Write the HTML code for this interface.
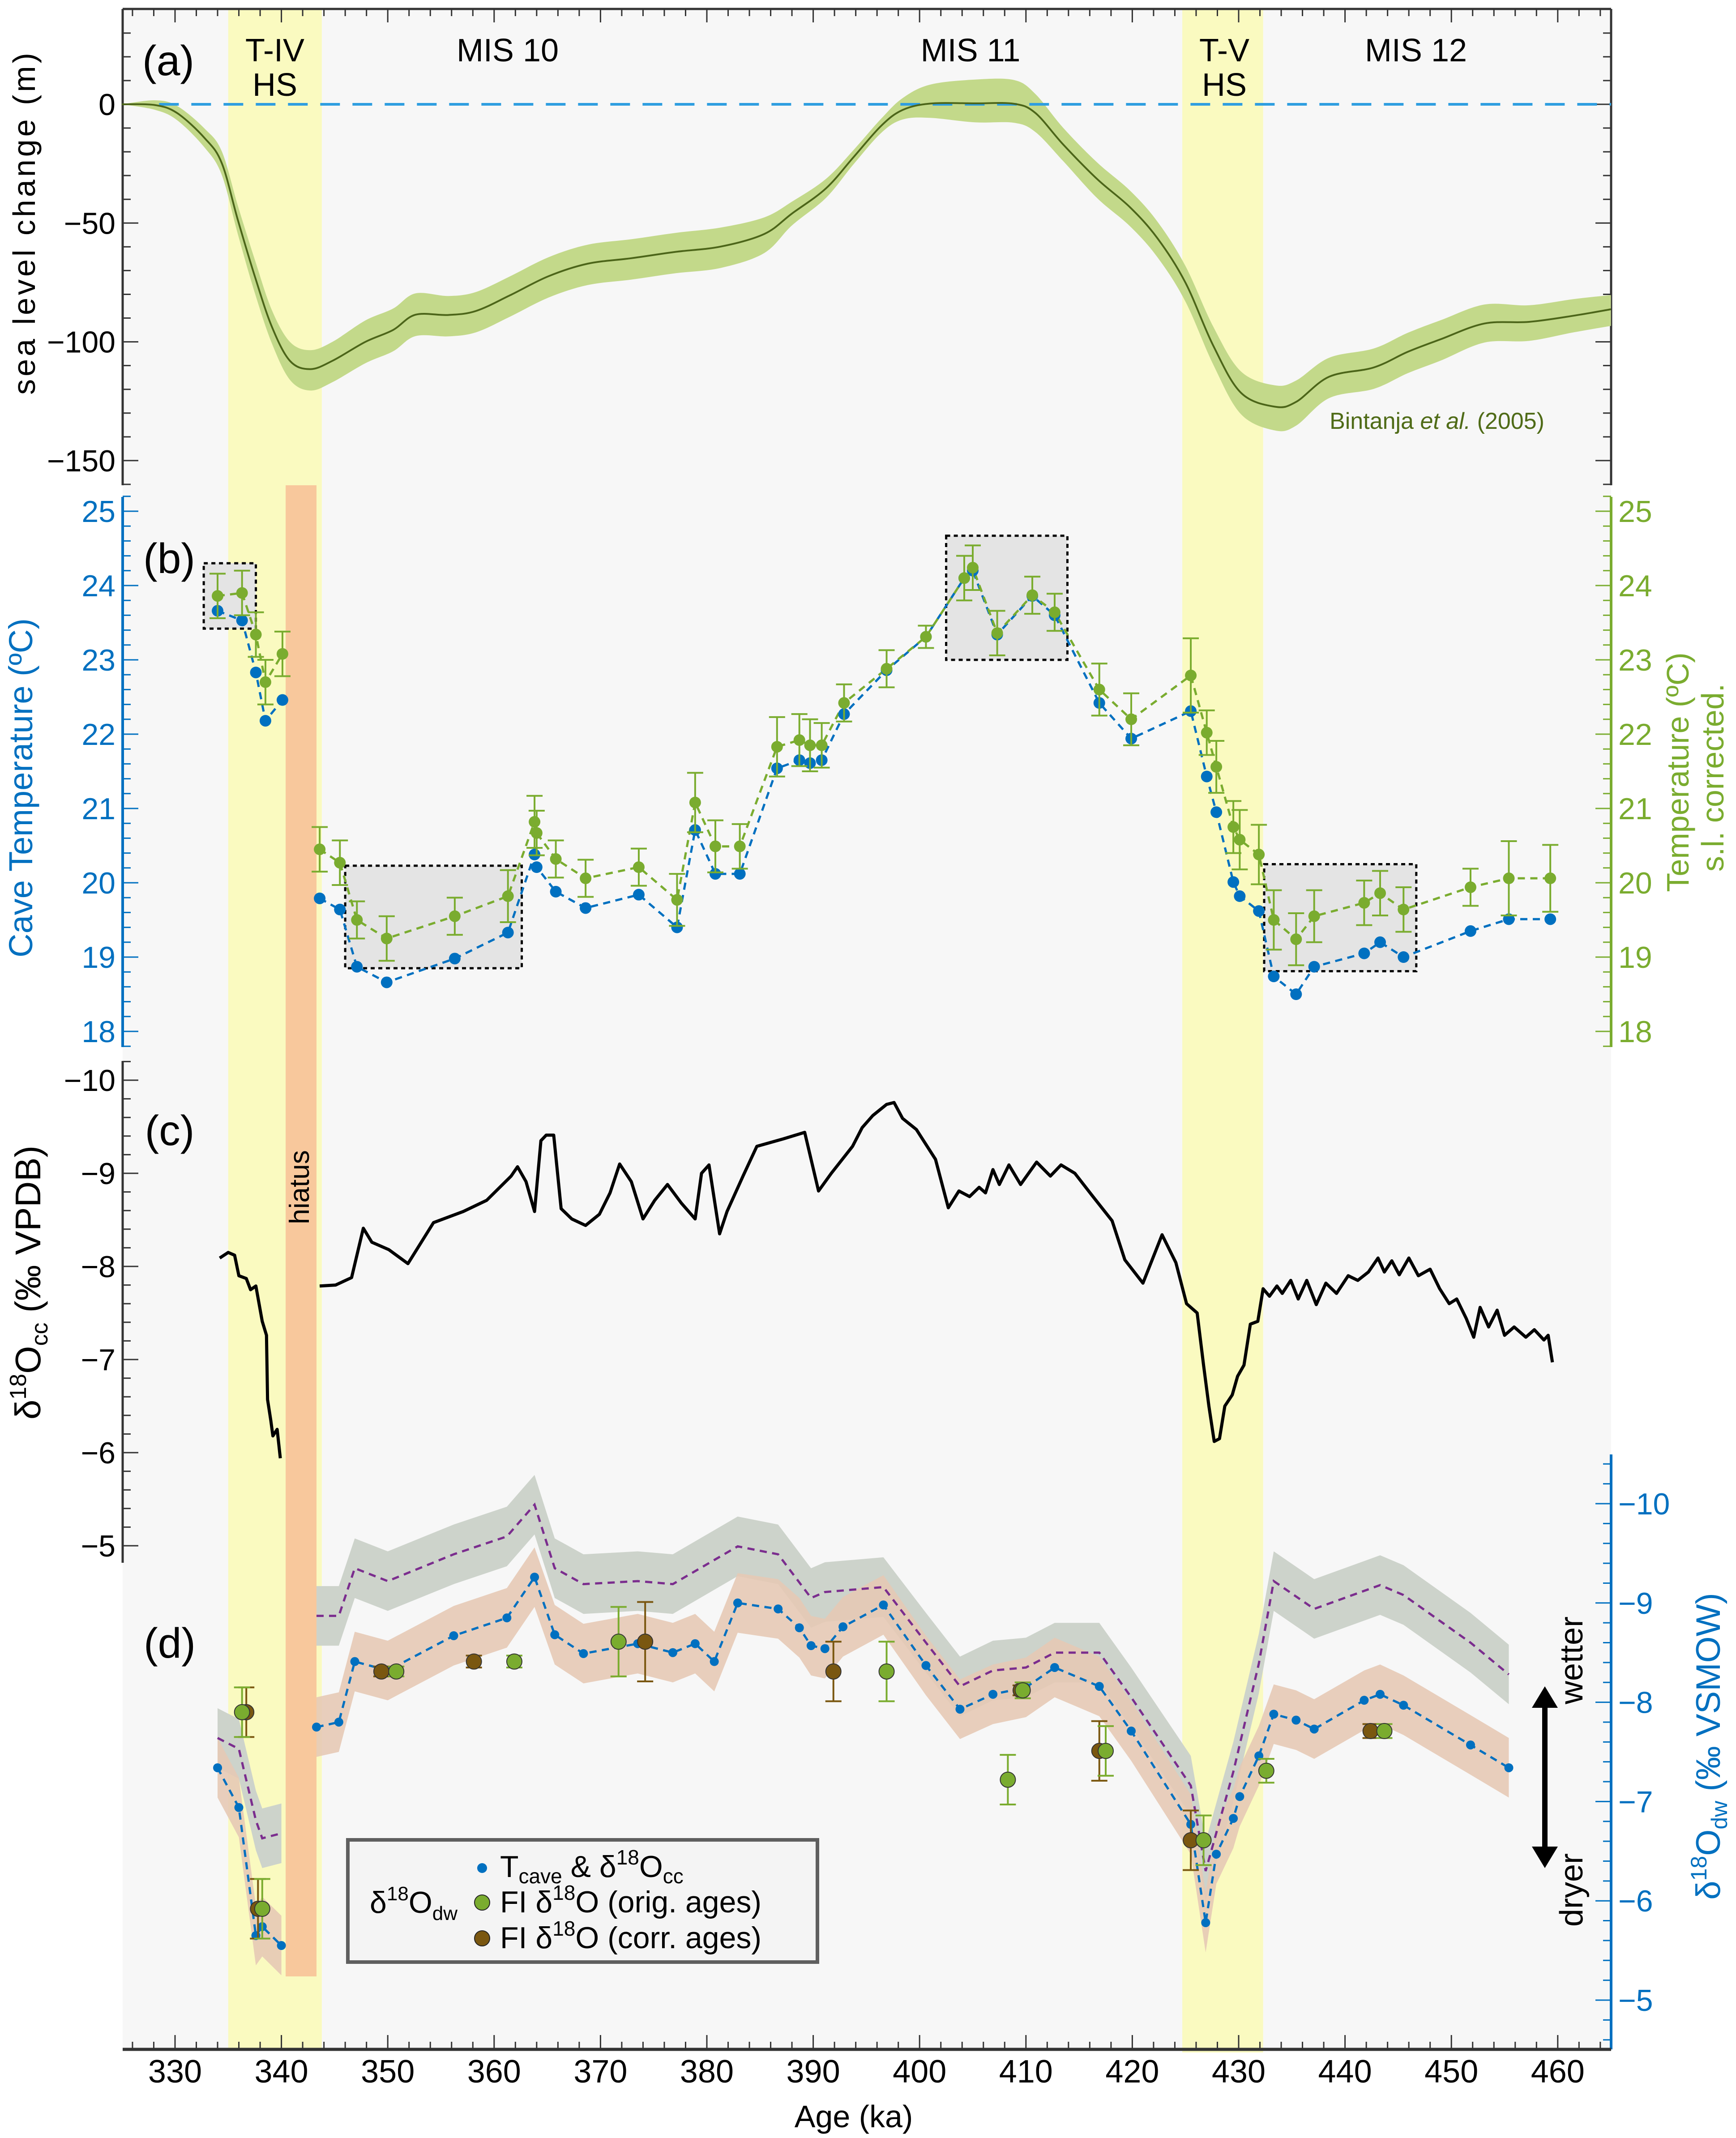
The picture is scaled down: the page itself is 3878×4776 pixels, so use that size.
<!DOCTYPE html>
<html><head><meta charset="utf-8"><style>
html,body{margin:0;padding:0;background:#fff}
svg{display:block;font-family:"Liberation Sans",Arial,sans-serif}
</style></head><body>
<svg id="chart" width="3878" height="4776" viewBox="0 0 3878 4776" xmlns="http://www.w3.org/2000/svg">
<rect x="274" y="20" width="3325" height="4558" fill="#f7f7f7"/>
<g id="bands"></g>
<g id="axes"></g>
<g id="marks"></g>
<g id="labels" fill="#000">
<text x="376" y="168" font-size="95" text-anchor="middle">(a)</text>
<text x="378" y="1280" font-size="95" text-anchor="middle">(b)</text>
<text x="379" y="2558" font-size="95" text-anchor="middle">(c)</text>
<text x="379" y="3703" font-size="95" text-anchor="middle">(d)</text>
<text x="614" y="137" font-size="72" text-anchor="middle">T-IV</text>
<text x="614" y="214" font-size="72" text-anchor="middle">HS</text>
<text x="1134" y="137" font-size="72" text-anchor="middle">MIS 10</text>
<text x="2168" y="137" font-size="72" text-anchor="middle">MIS 11</text>
<text x="2735" y="137" font-size="72" text-anchor="middle">T-V</text>
<text x="2735" y="214" font-size="72" text-anchor="middle">HS</text>
<text x="3163" y="137" font-size="72" text-anchor="middle">MIS 12</text>
<text x="3210" y="958" font-size="52" text-anchor="middle" fill="#4f6b17">Bintanja <tspan font-style="italic">et al.</tspan> (2005)</text>
<text transform="translate(690,2652) rotate(-90)" font-size="62" text-anchor="middle">hiatus</text>
<text transform="translate(78,497) rotate(-90)" font-size="70" letter-spacing="6" text-anchor="middle">sea level change  (m)</text>
<text transform="translate(72,1760) rotate(-90)" font-size="74" text-anchor="middle" fill="#0070c0">Cave Temperature  (ºC)</text>
<text transform="translate(3772,1725) rotate(-90)" font-size="70" text-anchor="middle" fill="#7aac2f">Temperature  (ºC)</text>
<text transform="translate(3850,1737) rotate(-90)" font-size="70" text-anchor="middle" fill="#7aac2f">s.l. corrected.</text>
<text transform="translate(90,2865) rotate(-90)" font-size="80" text-anchor="middle">δ<tspan font-size="52" dy="-32">18</tspan><tspan dy="32">O</tspan><tspan font-size="52" dy="16">cc</tspan><tspan dy="-16"> (‰ VPDB)</tspan></text>
<text transform="translate(3842,3901) rotate(-90)" font-size="76" text-anchor="middle" fill="#0070c0">δ<tspan font-size="50" dy="-30">18</tspan><tspan dy="30">O</tspan><tspan font-size="50" dy="16">dw</tspan><tspan dy="-16"> (‰ VSMOW)</tspan></text>
<text transform="translate(3535,3709) rotate(-90)" font-size="72" text-anchor="middle">wetter</text>
<text transform="translate(3535,4222) rotate(-90)" font-size="72" text-anchor="middle">dryer</text>
<g>
<line x1="3451" y1="3800" x2="3451" y2="4140" stroke="#000" stroke-width="12"/>
<polygon points="3451,3767 3422,3815 3480,3815" fill="#000"/>
<polygon points="3451,4173 3422,4125 3480,4125" fill="#000"/>
</g>
<text x="1907" y="4752" font-size="70" text-anchor="middle">Age  (ka)</text>
</g>
<g id="legend">
<rect x="777" y="4110" width="1049" height="273" fill="#f4f4f4" stroke="#5f5f5f" stroke-width="8"/>
<text x="826" y="4273" font-size="68">δ<tspan font-size="44" dy="-28">18</tspan><tspan dy="28">O</tspan><tspan font-size="44" dy="16">dw</tspan></text>
<circle cx="1077" cy="4173" r="11" fill="#0070c0"/>
<text x="1117" y="4193" font-size="68">T<tspan font-size="46" dy="14">cave</tspan><tspan dy="-14"> &amp; δ</tspan><tspan font-size="46" dy="-28">18</tspan><tspan dy="28">O</tspan><tspan font-size="46" dy="14">cc</tspan></text>
<circle cx="1077" cy="4250" r="17" fill="#7aac2f" stroke="#222" stroke-width="2"/>
<text x="1117" y="4272" font-size="68">FI δ<tspan font-size="46" dy="-28">18</tspan><tspan dy="28">O (orig. ages)</tspan></text>
<circle cx="1077" cy="4330" r="17" fill="#7a5710" stroke="#222" stroke-width="2"/>
<text x="1117" y="4352" font-size="68">FI δ<tspan font-size="46" dy="-28">18</tspan><tspan dy="28">O (corr. ages)</tspan></text>
</g>
</svg>
<script>
// ---- Panel (a) sea level data ----
const seaAges=[325.0,328.1,330.2,332.8,334.4,335.9,337.5,339.1,340.8,342.7,344.8,347.9,350.5,352.6,355.7,358.3,361.5,365.1,368.8,372.9,377.1,381.3,385.4,388.0,391.2,393.8,396.4,398.4,401.0,405.2,408.9,410.9,413.5,416.7,419.8,422.4,425.0,427.6,430.2,433.4,435.4,438.5,442.7,445.9,449.0,453.1,457.3,461.5,465.0];
const seaLevel=[0,-0.3,-3.7,-14.3,-24.8,-48.6,-72.4,-93.6,-108,-111.5,-108,-100,-95,-88.6,-88.7,-87,-80.4,-72.4,-67.1,-64.8,-62.1,-59.9,-54.6,-46,-35.4,-22.2,-9.0,-2.4,0.3,0.4,0.2,-3.7,-16.9,-31.5,-43.4,-56.6,-75.1,-101.5,-121.4,-127.3,-125.3,-114.7,-110.8,-104.2,-98.9,-92.3,-91.6,-89,-86.3];
const seaErrHi=[0,2,3,4,5,6,7,7,8,8,8,9,9,9,8,8,8,8,8,8,8,8,7,5,4,3,3,5,8,10,10,8,7,7,7,7,7,8,9,9,9,8,8,8,8,8,7,7,6];
const seaErrLo=[0,2,3,4,5,6,7,7,8,9,9,9,9,9,9,9,9,9,9,9,9,9,8,5,4,3,3,4,6,8,8,8,7,8,8,8,8,8,9,10,10,9,9,9,9,8,8,7,7];
// ---- Panel (b) cave temperatures ----
const bAges=[334.0,336.3,337.6,338.5,340.1,343.6,345.5,347.1,349.9,356.3,361.3,363.8,364.0,365.8,368.6,373.6,377.2,378.9,380.8,383.1,386.6,388.7,389.7,390.8,392.9,396.9,400.6,404.2,405.0,407.3,410.6,412.7,416.9,419.9,425.5,427.0,427.9,429.5,430.1,431.9,433.3,435.4,437.1,441.8,443.3,445.5,451.8,455.4,459.3];
const caveTemp=[23.66,23.53,22.83,22.18,22.46,19.79,19.64,18.87,18.66,18.98,19.33,20.38,20.21,19.88,19.66,19.84,19.40,20.71,20.12,20.12,21.54,21.65,21.61,21.65,22.27,22.86,23.31,24.10,24.20,23.34,23.86,23.60,22.42,21.94,22.31,21.43,20.95,20.01,19.82,19.62,18.74,18.50,18.87,19.05,19.20,19.00,19.35,19.51,19.51];
const slTemp=[23.86,23.90,23.34,22.70,23.08,20.45,20.27,19.50,19.25,19.55,19.82,20.82,20.67,20.32,20.06,20.21,19.77,21.08,20.49,20.49,21.83,21.92,21.85,21.85,22.42,22.88,23.31,24.10,24.24,23.36,23.87,23.64,22.60,22.20,22.79,22.02,21.56,20.75,20.58,20.38,19.50,19.24,19.55,19.73,19.86,19.64,19.94,20.06,20.06];
const slTempErr=[0.3,0.3,0.3,0.3,0.3,0.3,0.3,0.25,0.3,0.25,0.35,0.35,0.3,0.25,0.25,0.25,0.35,0.4,0.35,0.3,0.4,0.35,0.35,0.3,0.25,0.25,0.15,0.3,0.3,0.3,0.25,0.25,0.35,0.35,0.5,0.3,0.35,0.35,0.4,0.4,0.4,0.35,0.35,0.3,0.3,0.3,0.25,0.5,0.45];
const boxAgeFrom=[332.7,346.0,402.5,432.4];
const boxAgeTo=[337.6,362.6,413.9,446.7];
const boxTempTop=[24.3,20.23,24.67,20.25];
const boxTempBottom=[23.42,18.85,23.0,18.81];
// ---- Panel (c) d18O calcite ----
const cAges=[334.2,335.0,335.6,336.0,336.7,337.1,337.6,338.2,338.6,338.7,339.0,339.2,339.6,339.9,
343.6,345.1,346.6,347.7,348.5,350.1,351.9,354.3,357.1,359.3,361.6,362.2,363.0,363.8,364.4,364.9,365.6,366.3,367.3,368.6,369.9,370.9,371.8,372.9,374.0,375.1,376.3,377.6,378.9,379.5,380.2,381.2,381.9,383.4,384.7,387.2,389.2,390.5,391.7,393.7,394.6,395.6,396.9,397.6,398.4,399.7,401.5,402.7,403.7,404.7,405.6,406.2,406.9,407.5,408.4,409.5,411.0,412.3,413.3,414.6,416.1,418.1,419.3,421.0,422.8,424.1,425.1,426.1,426.7,427.2,427.7,428.2,428.7,429.4,429.9,430.5,431.1,431.8,432.3,432.9,433.6,434.1,434.9,435.6,436.4,437.3,438.2,439.2,440.3,441.2,442.2,443.1,443.7,444.4,445.1,446.0,446.9,448.0,448.9,449.8,450.5,451.4,452.1,452.7,453.5,454.3,455.0,455.9,457.0,457.8,458.7,459.1,459.5];
const d18Occ=[-8.09,-8.15,-8.12,-7.9,-7.87,-7.75,-7.79,-7.41,-7.26,-6.57,-6.35,-6.18,-6.25,-5.94,
-7.79,-7.80,-7.88,-8.41,-8.26,-8.18,-8.03,-8.47,-8.59,-8.71,-8.97,-9.07,-8.91,-8.59,-9.35,-9.41,-9.41,-8.62,-8.51,-8.44,-8.56,-8.79,-9.1,-8.91,-8.51,-8.71,-8.88,-8.68,-8.51,-9.0,-9.09,-8.35,-8.59,-8.97,-9.29,-9.37,-9.44,-8.81,-9.0,-9.29,-9.49,-9.62,-9.74,-9.76,-9.59,-9.47,-9.15,-8.63,-8.81,-8.75,-8.85,-8.79,-9.04,-8.88,-9.09,-8.88,-9.12,-8.97,-9.09,-9.0,-8.78,-8.49,-8.07,-7.82,-8.34,-8.04,-7.60,-7.5,-6.94,-6.50,-6.12,-6.15,-6.50,-6.62,-6.82,-6.94,-7.38,-7.41,-7.76,-7.68,-7.79,-7.71,-7.85,-7.65,-7.85,-7.59,-7.82,-7.71,-7.9,-7.85,-7.94,-8.09,-7.94,-8.06,-7.91,-8.09,-7.9,-7.97,-7.76,-7.60,-7.65,-7.44,-7.24,-7.56,-7.35,-7.53,-7.26,-7.35,-7.24,-7.32,-7.21,-7.26,-6.97];
// ---- Panel (d) d18O drip water ----
const dAges=[334.0,336.0,337.6,338.2,340.0,343.3,345.4,346.9,350.0,356.2,361.2,363.8,365.7,368.4,373.5,376.8,378.9,380.7,382.9,386.7,388.7,389.8,391.1,392.8,396.6,400.6,403.8,406.9,410.0,412.7,416.9,419.9,425.5,426.9,427.9,429.5,430.1,431.9,433.3,435.4,437.1,441.8,443.3,445.5,451.8,455.4];
const d18Odw=[-7.34,-6.94,-5.65,-5.74,-5.55,-7.75,-7.80,-8.41,-8.32,-8.67,-8.85,-9.26,-8.68,-8.49,-8.59,-8.50,-8.59,-8.41,-9.0,-8.94,-8.75,-8.57,-8.54,-8.76,-8.98,-8.37,-7.93,-8.08,-8.15,-8.35,-8.16,-7.71,-6.77,-5.78,-6.47,-6.83,-7.05,-7.46,-7.88,-7.82,-7.73,-8.02,-8.08,-7.97,-7.57,-7.34];
const purpleAges=[334.0,336.0,337.6,338.2,340.0,343.3,345.4,346.9,350.0,356.2,361.2,363.8,365.7,368.4,373.5,376.8,382.9,386.7,389.8,391.1,396.6,400.6,403.8,406.9,410.0,412.7,416.9,419.9,425.5,426.9,429.5,431.9,433.3,437.1,443.3,445.5,451.8,455.4];
const d18OdwSL=[-7.64,-7.53,-6.81,-6.63,-6.68,-8.87,-8.87,-9.35,-9.22,-9.49,-9.67,-9.99,-9.35,-9.19,-9.22,-9.19,-9.57,-9.49,-9.05,-9.11,-9.16,-8.60,-8.16,-8.32,-8.35,-8.50,-8.50,-8.05,-7.16,-6.30,-7.30,-8.39,-9.22,-8.94,-9.18,-9.08,-8.60,-8.28];
const fiOrigAges=[336.3,338.2,350.8,361.9,371.7,396.9,409.7,408.3,417.5,432.6,426.7,443.7];
const fiOrigVal=[-7.90,-5.92,-8.31,-8.41,-8.61,-8.31,-8.12,-7.22,-7.51,-7.31,-6.61,-7.71];
const fiOrigErr=[0.25,0.3,0.05,0.06,0.35,0.3,0.08,0.25,0.25,0.12,0.25,0.07];
const fiCorrAges=[336.7,337.8,349.4,358.1,374.2,391.9,409.5,416.9,425.5,442.4];
const fiCorrVal=[-7.90,-5.92,-8.31,-8.41,-8.61,-8.31,-8.12,-7.51,-6.61,-7.71];
const fiCorrErr=[0.25,0.3,0.05,0.06,0.4,0.3,0.05,0.3,0.3,0.07];
// ---- Axis ticks ----
const xTicks=[330,340,350,360,370,380,390,400,410,420,430,440,450,460];
const aTicks=[0,-50,-100,-150];
const bTicks=[18,19,20,21,22,23,24,25];
const cTicks=[-10,-9,-8,-7,-6,-5];
const dTicks=[-10,-9,-8,-7,-6,-5];

const NS='http://www.w3.org/2000/svg';
const X=a=>391+(a-330)*23.76;
const Ya=v=>233-v*5.306;
const Yb=t=>1142+(25-t)*166;
const Yc=v=>2413+(v+10)*208;
const Yd=v=>3359+(v+10)*221.8;
function el(tag,attrs,parent){const e=document.createElementNS(NS,tag);for(const k in attrs)e.setAttribute(k,attrs[k]);parent.appendChild(e);return e;}
const bands=document.getElementById('bands'),axes=document.getElementById('axes'),marks=document.getElementById('marks');

let r;
r=el('rect',{x:X(335.0),y:20,width:X(343.8)-X(335.0),height:4558,fill:'#fafac0'},bands);


r=el('rect',{x:X(424.7),y:20,width:X(432.3)-X(424.7),height:4565,fill:'#fafac0'},bands);


r=el('rect',{x:X(340.4),y:1084,width:X(343.3)-X(340.4),height:4415-1084,fill:'#f8c89c'},bands);



const ax=(x1,y1,x2,y2,c,w)=>el('line',{x1,y1,x2,y2,stroke:c,'stroke-width':w},axes);
function txt(x,y,s,size,anchor,fill,name){const t=el('text',{x,y,'font-size':size,'text-anchor':anchor,fill},axes);t.textContent=s;return t;}
const fmt=v=>v<0?'\u2212'+Math.abs(v):String(v);
ax(274,20,274,1084,'#333',5);ax(3599,20,3599,1084,'#333',5);ax(274,20,3599,20,'#333',5);
for(let v=-160;v<=40;v+=10){const y=Ya(v);const maj=v%50===0;ax(274,y,274+(maj?35:18),y,'#333',3);ax(3599,y,3599-(maj?35:18),y,'#333',3);}
for(let a=326;a<=464;a+=2){const maj=a%10===0;ax(X(a),20,X(a),20+(maj?30:16),'#333',3);}
aTicks.forEach(v=>txt(258,Ya(v)+24,fmt(v),68,'end','#000','sea-level-tick-label'));
ax(274,1110,274,2339,'#0070c0',6);ax(3599,1110,3599,2339,'#7aac2f',6);
for(let i=0;i<=37;i++){const t=17.8+i*0.2;const y=Yb(t);const maj=Math.abs(t-Math.round(t))<0.01;ax(274,y,274+(maj?35:18),y,'#0070c0',3);ax(3599,y,3599-(maj?35:18),y,'#7aac2f',3);}
bTicks.forEach(v=>{txt(258,Yb(v)+24,String(v),68,'end','#0070c0','cave-temp-tick-label');txt(3615,Yb(v)+24,String(v),68,'start','#7aac2f','sl-temp-tick-label');});
ax(274,2370,274,3491,'#333',5);
for(let i=0;i<=26;i++){const v=-10.2+i*0.2;const y=Yc(v);const maj=Math.abs(v-Math.round(v))<0.01;ax(274,y,274+(maj?35:18),y,'#333',3);}
cTicks.forEach(v=>txt(258,Yc(v)+24,fmt(v),68,'end','#000','d18occ-tick-label'));
ax(3599,3249,3599,4578,'#0070c0',6);
for(let i=0;i<=30;i++){const v=-10.4+i*0.2;const y=Yd(v);if(y<3249||y>4578)continue;const maj=Math.abs(v-Math.round(v))<0.01;ax(3599,y,3599-(maj?35:18),y,'#0070c0',3);}
dTicks.forEach(v=>txt(3615,Yd(v)+24,fmt(v),68,'start','#0070c0','d18odw-tick-label'));
ax(274,4578,3599,4578,'#333',7);
for(let a=326;a<=464;a+=2){const maj=a%10===0;ax(X(a),4578,X(a),4578-(maj?32:17),'#333',3);}
xTicks.forEach(a=>txt(X(a),4652,String(a),72,'middle','#000','x-tick-label'));

const pts=(xs,ys,fy)=>xs.map((a,i)=>X(a).toFixed(1)+','+fy(ys[i]).toFixed(1)).join(' ');
function bandPath(xs,ys,hi,lo,fy){let d='';xs.forEach((a,i)=>{d+=(i?'L':'M')+X(a).toFixed(1)+','+fy(ys[i]+hi[i]).toFixed(1);});for(let i=xs.length-1;i>=0;i--){d+='L'+X(xs[i]).toFixed(1)+','+fy(ys[i]-lo[i]).toFixed(1);}return d+'Z';}
function split(xs,ys){const a=[[],[]],b=[[],[]];xs.forEach((x,i)=>{if(x<341){a[0].push(x);a[1].push(ys[i]);}else{b[0].push(x);b[1].push(ys[i]);}});return [a,b];}
// smooth (Catmull-Rom) path through points
function smooth(P,start){let d=start?'M'+P[0][0].toFixed(1)+','+P[0][1].toFixed(1):'L'+P[0][0].toFixed(1)+','+P[0][1].toFixed(1);
for(let i=0;i<P.length-1;i++){const p0=P[Math.max(0,i-1)],p1=P[i],p2=P[i+1],p3=P[Math.min(P.length-1,i+2)];
const c1=[p1[0]+(p2[0]-p0[0])/6,p1[1]+(p2[1]-p0[1])/6],c2=[p2[0]-(p3[0]-p1[0])/6,p2[1]-(p3[1]-p1[1])/6];
d+='C'+c1[0].toFixed(1)+','+c1[1].toFixed(1)+' '+c2[0].toFixed(1)+','+c2[1].toFixed(1)+' '+p2[0].toFixed(1)+','+p2[1].toFixed(1);}return d;}
const upper=seaAges.map((a,i)=>[X(a),Ya(seaLevel[i]+seaErrHi[i])]);
const lower=seaAges.map((a,i)=>[X(a),Ya(seaLevel[i]-seaErrLo[i])]).reverse();
const mid=seaAges.map((a,i)=>[X(a),Ya(seaLevel[i])]);

let p=el('path',{d:smooth(upper,true)+smooth(lower,false)+'Z',fill:'#c3d98a'},marks);


p=el('line',{x1:X(328.5),y1:Ya(0),x2:3599,y2:Ya(0),stroke:'#2f9ee0','stroke-width':6,'stroke-dasharray':'44,28'},marks);


p=el('path',{d:smooth(mid,true),fill:'none',stroke:'#4c6519','stroke-width':4},marks);



boxAgeFrom.forEach((a,i)=>{const b=el('rect',{x:X(a),y:Yb(boxTempTop[i]),width:X(boxAgeTo[i])-X(a),height:Yb(boxTempBottom[i])-Yb(boxTempTop[i]),fill:'#e4e4e4',stroke:'#000','stroke-width':5,'stroke-dasharray':'9,8'},marks);

});
split(bAges,caveTemp).forEach(s=>{const l=el('polyline',{points:pts(s[0],s[1],Yb),fill:'none',stroke:'#0070c0','stroke-width':5,'stroke-dasharray':'16,12'},marks);

});
split(bAges,slTemp).forEach(s=>{const l=el('polyline',{points:pts(s[0],s[1],Yb),fill:'none',stroke:'#7aac2f','stroke-width':5,'stroke-dasharray':'16,12'},marks);

});
bAges.forEach((a,i)=>{const c=el('circle',{cx:X(a),cy:Yb(caveTemp[i]),r:13,fill:'#0070c0'},marks);

});
bAges.forEach((a,i)=>{const x=X(a),y1=Yb(slTemp[i]+slTempErr[i]),y2=Yb(slTemp[i]-slTempErr[i]);
const g=el('g',{stroke:'#7aac2f','stroke-width':4},marks);


el('line',{x1:x,y1:y1,x2:x,y2:y2},g);el('line',{x1:x-18,y1:y1,x2:x+18,y2:y1},g);el('line',{x1:x-18,y1:y2,x2:x+18,y2:y2},g);
const c=el('circle',{cx:x,cy:Yb(slTemp[i]),r:13,fill:'#7aac2f'},marks);

});

split(cAges,d18Occ).forEach(s=>{const l=el('polyline',{points:pts(s[0],s[1],Yc),fill:'none',stroke:'#000','stroke-width':7,'stroke-linejoin':'round'},marks);

});

const err03=n=>Array(n).fill(0.3);
split(purpleAges,d18OdwSL).forEach(s=>{const b=el('path',{d:bandPath(s[0],s[1],err03(s[0].length),err03(s[0].length),Yd),fill:'#cdd3cb'},marks);

});
split(dAges,d18Odw).forEach(s=>{const b=el('path',{d:bandPath(s[0],s[1],err03(s[0].length),err03(s[0].length),Yd),fill:'#e6c9b5',opacity:0.9},marks);

});
split(purpleAges,d18OdwSL).forEach(s=>{const l=el('polyline',{points:pts(s[0],s[1],Yd),fill:'none',stroke:'#7b2d8e','stroke-width':5,'stroke-dasharray':'16,12'},marks);

});
split(dAges,d18Odw).forEach(s=>{const l=el('polyline',{points:pts(s[0],s[1],Yd),fill:'none',stroke:'#0070c0','stroke-width':5,'stroke-dasharray':'16,12'},marks);

});
dAges.forEach((a,i)=>{const c=el('circle',{cx:X(a),cy:Yd(d18Odw[i]),r:10,fill:'#0070c0'},marks);

});
function fi(ages,vals,errs,color,name){ages.forEach((a,i)=>{const x=X(a),y1=Yd(vals[i]+errs[i]),y2=Yd(vals[i]-errs[i]);
const g=el('g',{stroke:color,'stroke-width':4},marks);


el('line',{x1:x,y1:y1,x2:x,y2:y2},g);el('line',{x1:x-18,y1:y1,x2:x+18,y2:y1},g);el('line',{x1:x-18,y1:y2,x2:x+18,y2:y2},g);
const c=el('circle',{cx:x,cy:Yd(vals[i]),r:17,fill:color,stroke:'#333','stroke-width':2},marks);

});}
fi(fiCorrAges,fiCorrVal,fiCorrErr,'#7a5710','fi-corr');
fi(fiOrigAges,fiOrigVal,fiOrigErr,'#7aac2f','fi-orig');
</script>
</body></html>
